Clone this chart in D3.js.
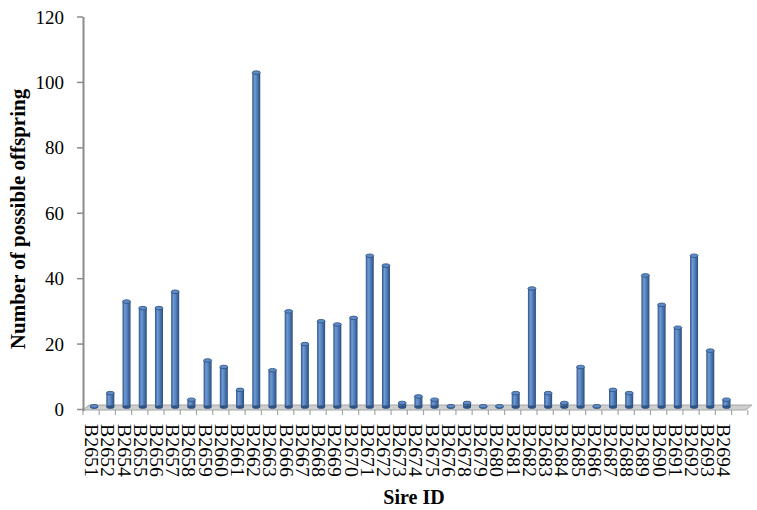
<!DOCTYPE html>
<html><head><meta charset="utf-8">
<script src="https://cdn.jsdelivr.net/npm/d3@7"></script>
<style>body{margin:0;background:#fff}svg{display:block}</style>
</head><body>
<svg id="c" width="757" height="510"></svg>
<script>
const categories = ["B2651","B2652","B2654","B2655","B2656","B2657","B2658","B2659","B2660","B2661","B2662","B2663","B2666","B2667","B2668","B2669","B2670","B2671","B2672","B2673","B2674","B2675","B2676","B2678","B2679","B2680","B2681","B2682","B2683","B2684","B2685","B2686","B2687","B2688","B2689","B2690","B2691","B2692","B2693","B2694"];
const offspring = [1,5,33,31,31,36,3,15,13,6,103,12,30,20,27,26,28,47,44,2,4,3,1,2,1,1,5,37,5,2,13,1,6,5,41,32,25,47,18,3];
const yTicks = [0,20,40,60,80,100,120];

const svg = d3.select("#c");
const serif = "'Liberation Serif','Times New Roman',serif";
const x = d3.scaleBand().domain(categories).range([83, 731.6]);
const y = d3.scaleLinear().domain([0,120]).range([409.5, 17]);
const bw = 8, dx = 3, floorY = 410;

const defs = svg.append("defs");
const g = defs.append("linearGradient").attr("id","cyl").attr("x1","0").attr("x2","1").attr("y1","0").attr("y2","0");
[[0,"#2F5283"],[0.3,"#6F9BD6"],[0.55,"#5584C2"],[1,"#2C4D7A"]].forEach(s=>g.append("stop").attr("offset",s[0]).attr("stop-color",s[1]));

// floor
const step = x.step();
const xEnd = x.range()[1] + step;
svg.append("polygon")
  .attr("points", [[83,floorY],[xEnd-2,floorY],[xEnd+4,floorY-5],[89,floorY-5]].map(p=>p.join(",")).join(" "))
  .attr("fill","#CFCFCF").attr("stroke","#A6A6A6").attr("stroke-width",1);

// x ticks
const tickXs = d3.range(categories.length + 2).map(i => x.range()[0] + i*step);
svg.append("g").selectAll("line").data(tickXs).join("line")
  .attr("x1",d=>d).attr("x2",d=>d).attr("y1",floorY).attr("y2",floorY+5)
  .attr("stroke","#A6A6A6").attr("stroke-width",1.2);

// y axis
const yAxis = svg.append("g");
yAxis.append("line").attr("x1",83.5).attr("x2",83.5).attr("y1",y(120)).attr("y2",floorY+1)
  .attr("stroke","#8C8C8C").attr("stroke-width",2);
yAxis.selectAll("line.t").data(yTicks).join("line").attr("class","t")
  .attr("x1",77).attr("x2",83).attr("y1",d=>y(d)).attr("y2",d=>y(d))
  .attr("stroke","#8C8C8C").attr("stroke-width",1.5);
yAxis.selectAll("text").data(yTicks).join("text")
  .attr("x",64).attr("y",d=>y(d)).attr("text-anchor","end").attr("dominant-baseline","central")
  .attr("font-family",serif).attr("font-size",19).attr("fill","#000").text(d=>d);

// bars (cylinders)
const bars = svg.append("g").selectAll("g").data(categories).join("g");
bars.append("rect")
  .attr("x",(d)=>x(d)+step/2+dx-bw/2).attr("width",bw)
  .attr("y",(d,i)=>y(offspring[i])).attr("height",(d,i)=>Math.max(0,floorY-3-y(offspring[i])))
  .attr("fill","url(#cyl)");
bars.append("ellipse")
  .attr("cx",(d)=>x(d)+step/2+dx).attr("cy",(d,i)=>floorY-3).attr("rx",bw/2).attr("ry",1.8)
  .attr("fill","#2F5283");
bars.append("ellipse")
  .attr("cx",(d)=>x(d)+step/2+dx).attr("cy",(d,i)=>y(offspring[i])).attr("rx",bw/2).attr("ry",1.8)
  .attr("fill","#5E8CC9").attr("stroke","#2C4D7A").attr("stroke-width",0.8);

// category labels
svg.append("g").selectAll("text").data(categories).join("text")
  .attr("transform",d=>`translate(${x(d)+step/2},424) rotate(90)`)
  .attr("text-anchor","start").attr("dominant-baseline","central")
  .attr("font-family",serif).attr("font-size",18)
  .attr("textLength",53).attr("lengthAdjust","spacingAndGlyphs")
  .text(d=>d);

// titles
svg.append("text").attr("transform","translate(18,219) rotate(-90)")
  .attr("text-anchor","middle").attr("dominant-baseline","central")
  .attr("font-family",serif).attr("font-size",21).attr("font-weight","bold")
  .text("Number of possible offspring");
svg.append("text").attr("x",414).attr("y",504).attr("text-anchor","middle")
  .attr("font-family",serif).attr("font-size",20).attr("font-weight","bold")
  .text("Sire ID");
</script>
</body></html>
